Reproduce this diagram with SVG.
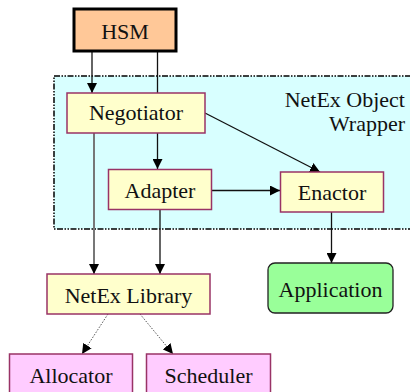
<svg xmlns="http://www.w3.org/2000/svg" width="410" height="392" viewBox="0 0 410 392" font-family="Liberation Serif">
<style>
.y{fill:#FFFFCC;stroke:#993366;stroke-width:1.5}
.p{fill:#FFCCFF;stroke:#993366;stroke-width:1.5}
.c{stroke:#111;stroke-width:1.3;fill:none}
.g{stroke:#777;stroke-width:2;fill:none}
.d{stroke:#555;stroke-width:1;stroke-dasharray:1.5 1.5;fill:none}
</style>
<defs>
<marker id="a" viewBox="0 0 10 10" refX="10" refY="5" markerWidth="10" markerHeight="10" markerUnits="userSpaceOnUse" orient="auto"><path d="M0,0L10,5L0,10z" fill="#000"/></marker>
</defs>
<g id="wrapper">
<rect x="54" y="76" width="360" height="153" fill="#D8FFFF" stroke="#000" stroke-width="1.5" stroke-dasharray="6 1.5 1.5 1.5 1.5 1.5"/>
<text x="405" y="107" font-family="Liberation Serif" font-size="22" text-anchor="end" fill="#111">NetEx Object</text>
<text x="405" y="131" font-family="Liberation Serif" font-size="22" text-anchor="end" fill="#111">Wrapper</text>
</g>
<g id="connectors">
<line class="c" x1="92" y1="51" x2="92" y2="93" marker-end="url(#a)"/>
<line class="c" x1="157.5" y1="51" x2="157.5" y2="169" marker-end="url(#a)"/>
<line class="c" x1="205" y1="113" x2="320" y2="172" marker-end="url(#a)"/>
<line class="c" x1="211" y1="190.5" x2="280" y2="190.5" marker-end="url(#a)"/>
<line class="g" x1="94" y1="133" x2="94" y2="274" marker-end="url(#a)"/>
<line class="c" x1="160" y1="210" x2="160" y2="274" marker-end="url(#a)"/>
<line class="c" x1="331.5" y1="212" x2="331.5" y2="263" marker-end="url(#a)"/>
<line class="d" x1="108" y1="314" x2="82" y2="354" marker-end="url(#a)"/>
<line class="d" x1="140" y1="314" x2="173" y2="354" marker-end="url(#a)"/>
</g>
<g id="hsm">
<rect x="74" y="9" width="102" height="42" fill="#FFC898" stroke="#000" stroke-width="3"/>
<text x="125" y="39" font-family="Liberation Serif" font-size="22" text-anchor="middle" fill="#111">HSM</text>
</g>
<g id="negotiator">
<rect class="y" x="67" y="93" width="138" height="40"/>
<text x="136" y="120" font-family="Liberation Serif" font-size="22" text-anchor="middle" fill="#111">Negotiator</text>
</g>
<g id="adapter">
<rect class="y" x="108.5" y="169.5" width="103" height="40"/>
<text x="160" y="198" font-family="Liberation Serif" font-size="22" text-anchor="middle" fill="#111">Adapter</text>
</g>
<g id="enactor">
<rect class="y" x="280.5" y="172" width="103" height="40"/>
<text x="332" y="200" font-family="Liberation Serif" font-size="22" text-anchor="middle" fill="#111">Enactor</text>
</g>
<g id="application">
<rect x="268" y="263" width="125" height="50" rx="7" fill="#99FF99" stroke="#222" stroke-width="1.3"/>
<text x="330.5" y="297" font-family="Liberation Serif" font-size="22" text-anchor="middle" fill="#111">Application</text>
</g>
<g id="netex-library">
<rect class="y" x="47" y="274" width="163" height="40"/>
<text x="128.5" y="303" font-family="Liberation Serif" font-size="22" text-anchor="middle" fill="#111">NetEx Library</text>
</g>
<g id="allocator">
<rect class="p" x="9.5" y="354" width="123" height="42"/>
<text x="71" y="383" font-family="Liberation Serif" font-size="22" text-anchor="middle" fill="#111">Allocator</text>
</g>
<g id="scheduler">
<rect class="p" x="146.5" y="354" width="124" height="42"/>
<text x="208.5" y="383" font-family="Liberation Serif" font-size="22" text-anchor="middle" fill="#111">Scheduler</text>
</g>
</svg>
